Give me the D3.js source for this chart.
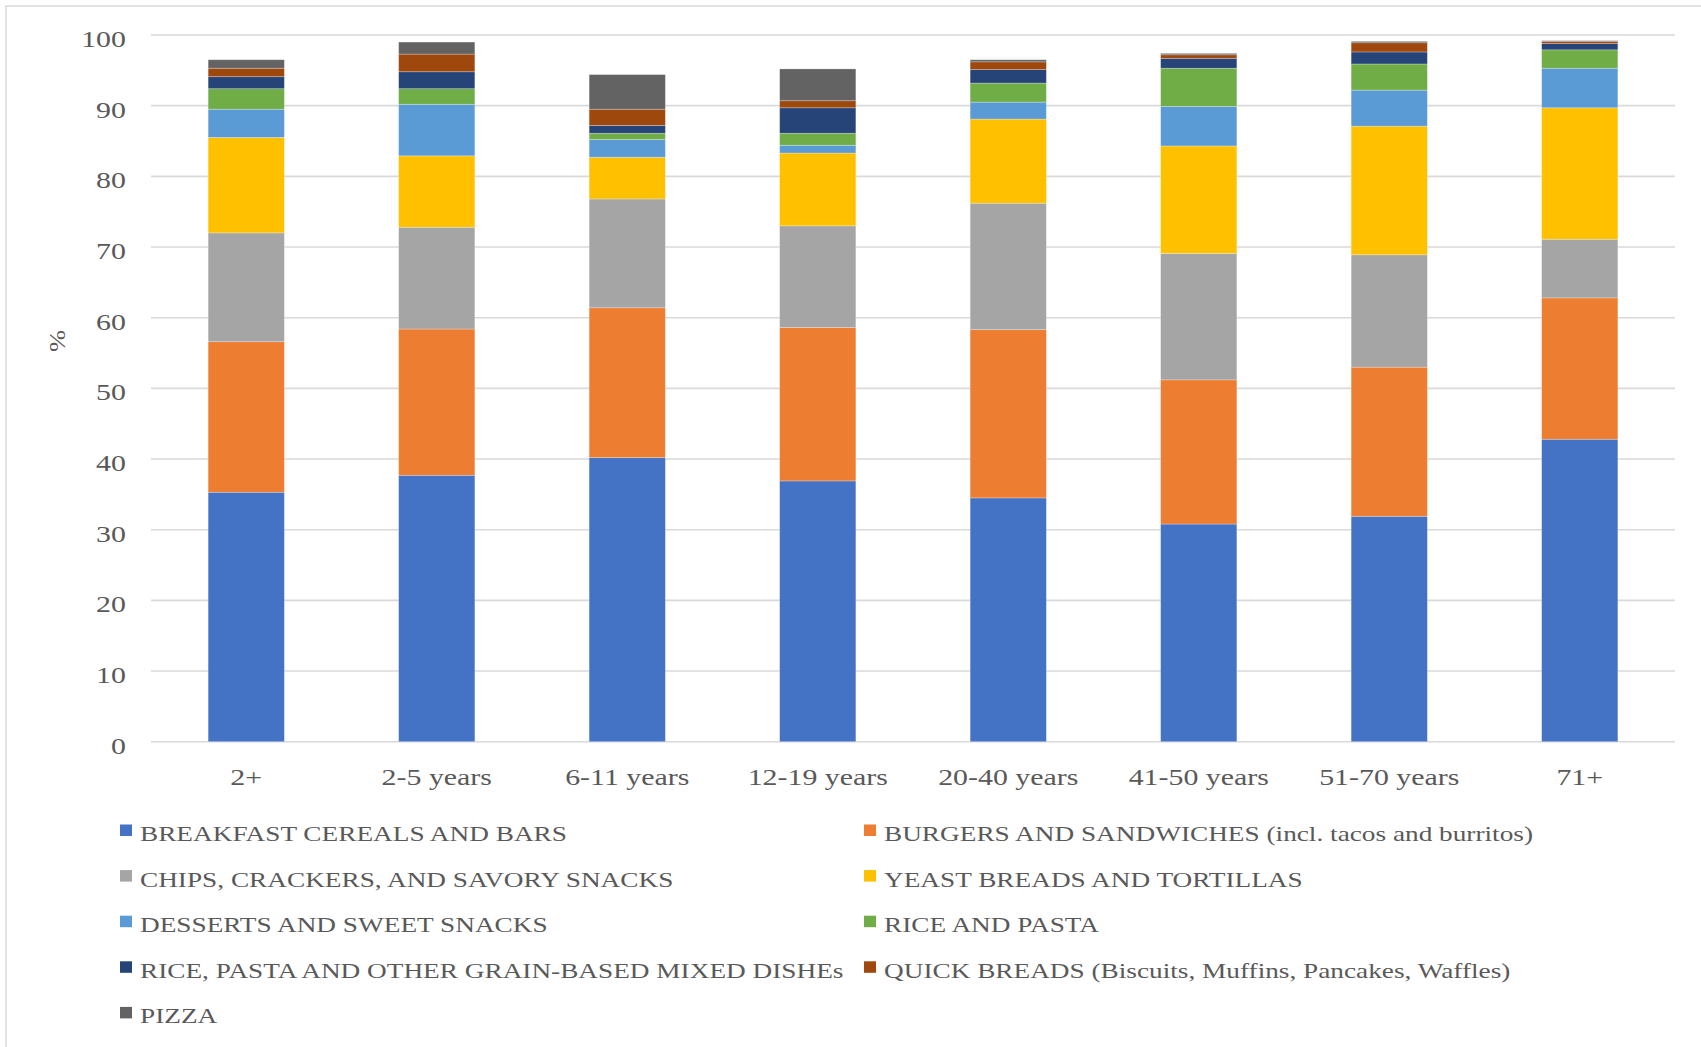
<!DOCTYPE html>
<html>
<head>
<meta charset="utf-8">
<script src="https://cdn.jsdelivr.net/npm/d3@7"></script>
<style>
  html, body { margin: 0; padding: 0; background: #ffffff; }
  svg { display: block; }
  text { font-family: "Liberation Serif", "Times New Roman", serif; fill: #595959; }
</style>
</head>
<body>
<svg id="chart" width="1701" height="1047"></svg>
<script>
// Age groups on the x axis
const categories = ["2+", "2-5 years", "6-11 years", "12-19 years", "20-40 years", "41-50 years", "51-70 years", "71+"];

// Food categories, bottom of the stack first
const seriesNames = [
  "BREAKFAST CEREALS AND BARS",
  "BURGERS AND SANDWICHES (incl. tacos and burritos)",
  "CHIPS, CRACKERS, AND SAVORY SNACKS",
  "YEAST BREADS AND TORTILLAS",
  "DESSERTS AND SWEET SNACKS",
  "RICE AND PASTA",
  "RICE, PASTA AND OTHER GRAIN-BASED MIXED DISHEs",
  "QUICK BREADS (Biscuits, Muffins, Pancakes, Waffles)",
  "PIZZA"
];

// Share (%) per age group
const cereals     = [35.3, 37.7, 40.2, 36.9, 34.5, 30.8, 31.9, 42.8];
const burgers     = [21.3, 20.7, 21.2, 21.7, 23.8, 20.4, 21.1, 20.0];
const chips       = [15.4, 14.4, 15.4, 14.4, 17.9, 17.9, 15.9, 8.3];
const yeastBreads = [13.5, 10.1, 5.9, 10.3, 11.9, 15.2, 18.2, 18.6];
const desserts    = [4.0, 7.3, 2.5, 1.1, 2.4, 5.6, 5.1, 5.6];
const ricePasta   = [2.9, 2.2, 0.9, 1.7, 2.7, 5.4, 3.7, 2.6];
const mixedDishes = [1.7, 2.4, 1.1, 3.6, 1.9, 1.4, 1.7, 0.9];
const quickBreads = [1.2, 2.5, 2.3, 1.0, 1.1, 0.5, 1.3, 0.3];
const pizza       = [1.2, 1.7, 4.9, 4.5, 0.3, 0.2, 0.2, 0.1];

const yTicks = [0, 10, 20, 30, 40, 50, 60, 70, 80, 90, 100];

const seriesValues = [cereals, burgers, chips, yeastBreads, desserts, ricePasta, mixedDishes, quickBreads, pizza];
const colors = ["#4472C4", "#ED7D31", "#A5A5A5", "#FFC000", "#5B9BD5", "#70AD47", "#264478", "#9E480E", "#636363"];

// Build row table for d3.stack
const rows = categories.map((c, i) => {
  const r = { category: c };
  seriesNames.forEach((s, k) => { r[s] = seriesValues[k][i]; });
  return r;
});

const svg = d3.select("#chart");
const AXIS_SX = 1.3;   // horizontal widening of axis text
const LEG_SX = 1.24;   // horizontal widening of legend text

// Outer frame (top and left edges visible)
svg.append("rect")
  .attr("x", 6).attr("y", 6)
  .attr("width", 1720).attr("height", 1060)
  .attr("fill", "none")
  .attr("stroke", "#d9d9d9")
  .attr("stroke-width", 1.5);

const x = d3.scaleBand()
  .domain(categories)
  .range([151, 1675])
  .paddingInner(0.6)
  .paddingOuter(0.3);

const y = d3.scaleLinear()
  .domain([0, 100])
  .range([741.7, 35]);

// Horizontal gridlines
svg.append("g")
  .selectAll("line")
  .data(yTicks)
  .join("line")
  .attr("x1", 151).attr("x2", 1675)
  .attr("y1", d => y(d)).attr("y2", d => y(d))
  .attr("stroke", "#d9d9d9")
  .attr("stroke-width", 1.6);

// Y tick labels
svg.append("g")
  .selectAll("text")
  .data(yTicks)
  .join("text")
  .attr("text-anchor", "end")
  .attr("transform", d => `translate(126,${y(d) + 12}) scale(${AXIS_SX},1)`)
  .style("font-size", "23px")
  .text(d => d);

// Y axis title
svg.append("text")
  .attr("text-anchor", "middle")
  .attr("transform", "translate(65,341) rotate(-90) scale(1.15,1)")
  .style("font-size", "23px")
  .text("%");

// Stacked bars
const stack = d3.stack().keys(seriesNames);
const stacked = stack(rows);

svg.append("g")
  .selectAll("g")
  .data(stacked)
  .join("g")
  .attr("fill", (d, i) => colors[i])
  .selectAll("rect")
  .data(d => d)
  .join("rect")
  .attr("x", d => x(d.data.category))
  .attr("width", x.bandwidth())
  .attr("y", d => y(d[1]))
  .attr("height", d => Math.max(0, y(d[0]) - y(d[1])))
  .attr("stroke", "#ffffff")
  .attr("stroke-opacity", 0.35)
  .attr("stroke-width", 0.75);

// X category labels
svg.append("g")
  .selectAll("text")
  .data(categories)
  .join("text")
  .attr("text-anchor", "middle")
  .attr("transform", d => `translate(${x(d) + x.bandwidth() / 2},785) scale(${AXIS_SX},1)`)
  .style("font-size", "23px")
  .text(d => d);

// Legend: two columns, filled row by row
const legendCols = [120, 864];
const legendBaseline = 841;
const legendStep = 45.6;

const legend = svg.append("g")
  .selectAll("g")
  .data(seriesNames)
  .join("g")
  .attr("transform", (d, i) => `translate(${legendCols[i % 2]},${legendBaseline + Math.floor(i / 2) * legendStep})`);

legend.append("rect")
  .attr("x", 0).attr("y", -16.5)
  .attr("width", 12).attr("height", 11.5)
  .attr("fill", (d, i) => colors[i]);

legend.append("text")
  .attr("transform", `translate(20,0) scale(${LEG_SX},1)`)
  .style("font-size", "22px")
  .text(d => d);
</script>
</body>
</html>
